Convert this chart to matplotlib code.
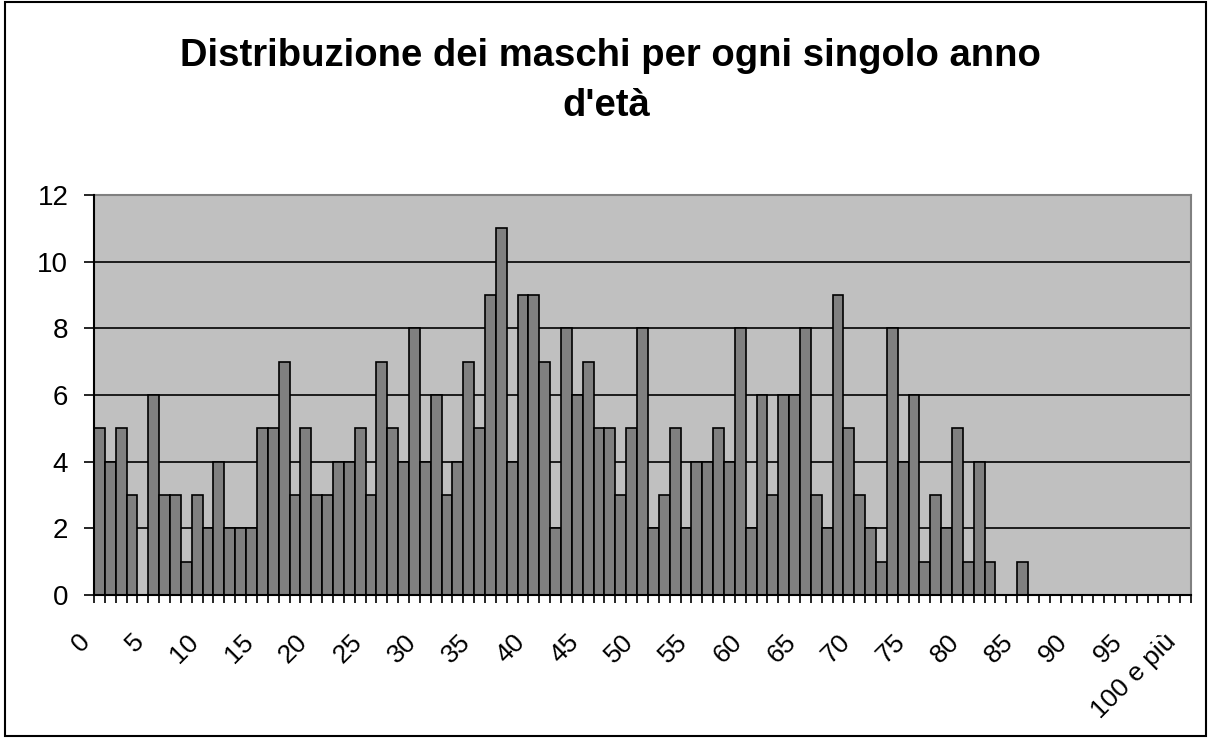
import matplotlib
matplotlib.use("Agg")
import matplotlib.pyplot as plt
import numpy as np
from matplotlib.patches import Rectangle
from matplotlib.transforms import ScaledTranslation

plt.rcParams['font.family'] = ['Liberation Sans', 'DejaVu Sans']

# eta' 0..99 + "100 e più"
ages = [str(i) for i in range(100)] + ["100 e più"]
maschi = [
    5, 4, 5, 3, 0, 6, 3, 3, 1, 3,
    2, 4, 2, 2, 2, 5, 5, 7, 3, 5,
    3, 3, 4, 4, 5, 3, 7, 5, 4, 8,
    4, 6, 3, 4, 7, 5, 9, 11, 4, 9,
    9, 7, 2, 8, 6, 7, 5, 5, 3, 5,
    8, 2, 3, 5, 2, 4, 4, 5, 4, 8,
    2, 6, 3, 6, 6, 8, 3, 2, 9, 5,
    3, 2, 1, 8, 4, 6, 1, 3, 2, 5,
    1, 4, 1, 0, 0, 1, 0, 0, 0, 0,
    0, 0, 0, 0, 0, 0, 0, 0, 0, 0,
    0,
]
y_ticks = [0, 2, 4, 6, 8, 10, 12]

W, H = 1208, 738
fig = plt.figure(figsize=(W / 100, H / 100), dpi=100)
fig.patch.set_facecolor('white')

# cornice esterna
fig.patches.append(Rectangle((5 / W, 2 / H), 1201 / W, 734 / H, transform=fig.transFigure,
                             fill=False, edgecolor='black', linewidth=1.5))

ax = fig.add_axes([94 / W, 1 - 595 / H, 1097 / W, 400 / H])
ax.set_facecolor('#C0C0C0')

x = np.arange(len(maschi))
ax.bar(x, maschi, width=1.0, color='#808080', edgecolor='black', linewidth=1.2, zorder=3)

ax.set_xlim(-0.5, len(maschi) - 0.5)
ax.set_ylim(0, 12)
ax.set_yticks(y_ticks)
ax.yaxis.grid(True, color='black', linewidth=1.2, zorder=1)
ax.set_axisbelow(True)

ax.tick_params(axis='y', direction='out', length=7.5, width=1.2, labelsize=20, pad=11, colors='black')

# etichette ogni 5 anni, tacche ai bordi delle categorie
lab_idx = list(range(0, len(maschi), 5))
ax.set_xticks(lab_idx)
ax.set_xticklabels([ages[i] for i in lab_idx], rotation=45, ha='right', va='center',
                   rotation_mode='anchor', fontsize=19)
ax.tick_params(axis='x', which='major', length=0, pad=31)
shift = ScaledTranslation(-13 / 100, 0, fig.dpi_scale_trans)
for lbl in ax.get_xticklabels():
    lbl.set_transform(lbl.get_transform() + shift)
ax.set_xticks(np.arange(-0.5, len(maschi)), minor=True)
ax.tick_params(axis='x', which='minor', direction='out', length=6, width=1.2)

for s in ['top', 'right']:
    ax.spines[s].set_color('#808080')
    ax.spines[s].set_linewidth(1.5)
for s in ['left', 'bottom']:
    ax.spines[s].set_color('black')
    ax.spines[s].set_linewidth(1.5)
    ax.spines[s].set_zorder(4)

fig.text(610 / W, 1 - 66 / H, "Distribuzione dei maschi per ogni singolo anno",
         ha='center', va='baseline', fontsize=27.5, fontweight='bold')
fig.text(606 / W, 1 - 116 / H, "d'età", ha='center', va='baseline', fontsize=27.5, fontweight='bold')

fig.savefig('out.png', dpi=100)
